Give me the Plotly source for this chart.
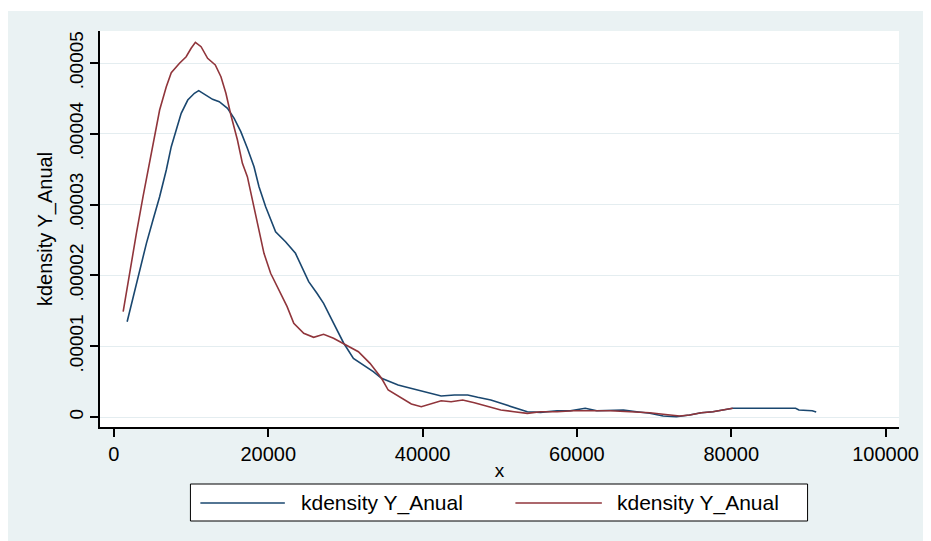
import plotly.graph_objects as go

# ---- data ----
blue_x = [1713, 2485, 3348, 4211, 5061, 5924, 6787, 7431, 8074, 8718, 9568, 10431, 10985,
          11938, 12788, 13651, 14720, 15582, 16445, 17295, 18158, 18802, 19665, 20953,
          22240, 23528, 24378, 25241, 26310, 27173, 28035, 28885, 29748, 31036, 32324,
          33612, 34681, 35762, 36831, 37694, 39407, 41119, 42407, 44133, 45846, 47134,
          48846, 50572, 52285, 53573, 55285, 57435, 59148, 61080, 62583, 64300, 66025,
          67738, 69451, 71176, 72889, 74602, 76109, 77616, 79110, 80191, 81904, 88343,
          88768, 90493, 91008]
blue_y = [1.346e-5, 1.699e-5, 2.076e-5, 2.453e-5, 2.782e-5, 3.112e-5, 3.489e-5, 3.818e-5,
          4.054e-5, 4.289e-5, 4.477e-5, 4.572e-5, 4.609e-5, 4.548e-5, 4.487e-5, 4.453e-5,
          4.360e-5, 4.219e-5, 4.030e-5, 3.795e-5, 3.535e-5, 3.253e-5, 2.970e-5, 2.617e-5,
          2.476e-5, 2.312e-5, 2.123e-5, 1.911e-5, 1.747e-5, 1.606e-5, 1.417e-5, 1.229e-5,
          1.049e-5, 0.829e-5, 0.734e-5, 0.640e-5, 0.547e-5, 0.499e-5, 0.452e-5, 0.428e-5,
          0.381e-5, 0.335e-5, 0.297e-5, 0.311e-5, 0.311e-5, 0.278e-5, 0.240e-5, 0.179e-5,
          0.123e-5, 0.075e-5, 0.066e-5, 0.089e-5, 0.089e-5, 0.123e-5, 0.089e-5, 0.089e-5,
          0.099e-5, 0.075e-5, 0.052e-5, 0.014e-5, 0.004e-5, 0.028e-5, 0.061e-5, 0.075e-5,
          0.099e-5, 0.123e-5, 0.123e-5, 0.123e-5, 0.099e-5, 0.089e-5, 0.071e-5]

red_x = [1198, 2060, 2923, 3773, 4636, 5280, 5924, 6787, 7431, 8499, 9362, 10006, 10560,
         11294, 12144, 13136, 13870, 14514, 15158, 16008, 16652, 17295, 18158, 18802,
         19446, 20309, 21377, 22446, 23309, 24597, 25885, 27173, 28460, 29967, 31680,
         33186, 34681, 35543, 37256, 38544, 39832, 41119, 42407, 43695, 45202, 46709,
         48421, 50134, 51860, 53573, 55285, 57435, 59586, 61724, 64300, 66875, 69451,
         71176, 73314, 74602, 76109, 77616, 79110, 80191]
red_y = [1.487e-5, 2.076e-5, 2.599e-5, 3.112e-5, 3.587e-5, 3.959e-5, 4.336e-5, 4.665e-5,
         4.863e-5, 4.996e-5, 5.089e-5, 5.208e-5, 5.292e-5, 5.230e-5, 5.066e-5, 4.972e-5,
         4.806e-5, 4.572e-5, 4.265e-5, 3.912e-5, 3.583e-5, 3.394e-5, 2.970e-5, 2.641e-5,
         2.312e-5, 2.030e-5, 1.794e-5, 1.558e-5, 1.323e-5, 1.182e-5, 1.126e-5, 1.168e-5,
         1.112e-5, 1.027e-5, 0.922e-5, 0.758e-5, 0.547e-5, 0.381e-5, 0.264e-5, 0.184e-5,
         0.145e-5, 0.184e-5, 0.230e-5, 0.216e-5, 0.240e-5, 0.202e-5, 0.155e-5, 0.099e-5,
         0.075e-5, 0.052e-5, 0.075e-5, 0.075e-5, 0.089e-5, 0.089e-5, 0.089e-5, 0.075e-5,
         0.061e-5, 0.038e-5, 0.014e-5, 0.028e-5, 0.061e-5, 0.075e-5, 0.099e-5, 0.123e-5]

x_ticks = [0, 20000, 40000, 60000, 80000, 100000]
x_tick_labels = ["0", "20000", "40000", "60000", "80000", "100000"]
y_ticks = [0, 0.00001, 0.00002, 0.00003, 0.00004, 0.00005]
y_tick_labels = ["0", ".00001", ".00002", ".00003", ".00004", ".00005"]
series_names = ["kdensity Y_Anual", "kdensity Y_Anual"]
colors = ["#1a476f", "#90353b"]

# ---- layout geometry (page pixels; the page body adds an 8px offset) ----
OFF = 8
W, H = 931 - OFF, 541 - OFF
L, R, T, B = 100, 904, 31, 427   # plot area edges in page pixels
pw, ph = R - L, B - T

def px(x):
    return (x - L) / pw

def py(y):
    return (B - y) / ph

FONT = "Liberation Sans, Arial, sans-serif"

fig = go.Figure()
fig.add_trace(go.Scatter(x=blue_x, y=blue_y, mode="lines", name=series_names[0],
                         line=dict(color=colors[0], width=1.6), showlegend=False))
fig.add_trace(go.Scatter(x=red_x, y=red_y, mode="lines", name=series_names[1],
                         line=dict(color=colors[1], width=1.6), showlegend=False))

shapes = [
    # white strip above the graph region
    dict(type="rect", xref="paper", yref="paper", x0=px(0), x1=px(940), y0=py(11), y1=py(0),
         fillcolor="white", line=dict(width=0), layer="above"),
    # legend box
    dict(type="rect", xref="paper", yref="paper", x0=px(191), x1=px(812), y0=py(521), y1=py(484),
         fillcolor="white", line=dict(color="black", width=1)),
    dict(type="line", xref="paper", yref="paper", x0=px(201), x1=px(286), y0=py(503), y1=py(503),
         line=dict(color=colors[0], width=1.6)),
    dict(type="line", xref="paper", yref="paper", x0=px(518), x1=px(605), y0=py(503), y1=py(503),
         line=dict(color=colors[1], width=1.6)),
]
annotations = [
    dict(xref="paper", yref="paper", x=px(300), y=py(503), text=series_names[0], showarrow=False,
         xanchor="left", yanchor="middle", font=dict(family=FONT, size=21, color="black")),
    dict(xref="paper", yref="paper", x=px(618), y=py(503), text=series_names[1], showarrow=False,
         xanchor="left", yanchor="middle", font=dict(family=FONT, size=21, color="black")),
]

fig.update_layout(
    width=W, height=H,
    margin=dict(l=L - OFF, r=W - (R - OFF), t=T - OFF, b=H - (B - OFF), pad=0),
    paper_bgcolor="#EAF2F3",
    plot_bgcolor="white",
    font=dict(family=FONT, color="black"),
    shapes=shapes,
    annotations=annotations,
    showlegend=False,
)
fig.update_xaxes(
    range=[(L - 114) * 20000 / 155.3, (R - 114) * 20000 / 155.3],
    tickmode="array", tickvals=x_ticks, ticktext=x_tick_labels,
    ticks="outside", ticklen=8, tickwidth=1.5, tickcolor="black",
    showline=True, linecolor="black", linewidth=1.5,
    showgrid=False, zeroline=False,
    tickfont=dict(family=FONT, size=20, color="black"),
    title=dict(text="x", font=dict(family=FONT, size=19, color="black"), standoff=0),
)
fig.update_yaxes(
    range=[(417 - B) * 1e-5 / 70.8, (417 - T) * 1e-5 / 70.8],
    tickmode="array", tickvals=y_ticks, ticktext=y_tick_labels, tickangle=-90,
    ticks="outside", ticklen=8, tickwidth=1.5, tickcolor="black",
    showline=True, linecolor="black", linewidth=1.5,
    showgrid=True, gridcolor="#E4EDF0", gridwidth=1, zeroline=False,
    tickfont=dict(family=FONT, size=19, color="black"),
    title=dict(text="kdensity Y_Anual", font=dict(family=FONT, size=20, color="black"), standoff=8),
)

fig.write_html("out.html")
